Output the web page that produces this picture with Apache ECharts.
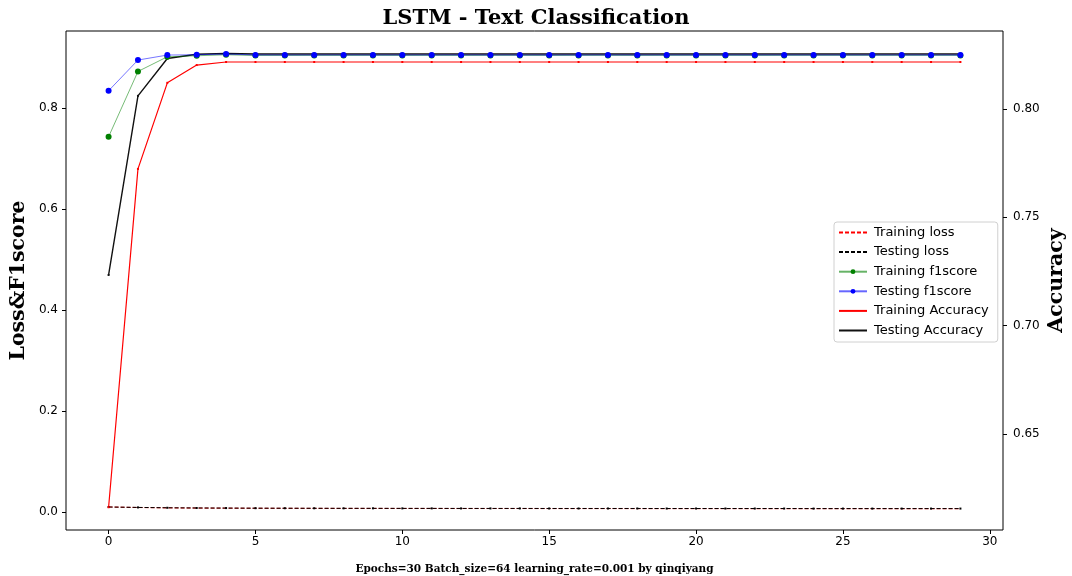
<!DOCTYPE html>
<html>
<head>
<meta charset="utf-8">
<script src="https://cdn.jsdelivr.net/npm/echarts@6/dist/echarts.min.js"></script>
<style>
  html, body { margin: 0; padding: 0; background: #fff; }
  #chart { width: 1072px; height: 576px; }
</style>
</head>
<body>
<div id="chart"></div>
<script>
// Epoch index for every recorded point
const epochs = [0, 1, 2, 3, 4, 5, 6, 7, 8, 9, 10, 11, 12, 13, 14, 15, 16, 17, 18, 19, 20, 21, 22, 23, 24, 25, 26, 27, 28, 29];

// Left axis: losses and F1 scores
const trainLoss = [0.0099, 0.0088, 0.0081, 0.0077, 0.0075, 0.0073, 0.0072, 0.0071, 0.0070, 0.0070, 0.0069, 0.0069, 0.0068, 0.0068, 0.0068, 0.0067, 0.0067, 0.0067, 0.0066, 0.0066, 0.0066, 0.0066, 0.0065, 0.0065, 0.0065, 0.0065, 0.0065, 0.0064, 0.0064, 0.0064];
const testLoss  = [0.0098, 0.0090, 0.0083, 0.0079, 0.0077, 0.0075, 0.0074, 0.0073, 0.0072, 0.0072, 0.0071, 0.0071, 0.0070, 0.0070, 0.0070, 0.0069, 0.0069, 0.0069, 0.0069, 0.0068, 0.0068, 0.0068, 0.0068, 0.0068, 0.0067, 0.0067, 0.0067, 0.0067, 0.0067, 0.0067];
const trainF1   = [0.7426, 0.8719, 0.9010, 0.9030, 0.9050, 0.9035, 0.9035, 0.9036, 0.9035, 0.9036, 0.9035, 0.9036, 0.9035, 0.9036, 0.9036, 0.9035, 0.9036, 0.9036, 0.9035, 0.9036, 0.9036, 0.9036, 0.9035, 0.9036, 0.9036, 0.9036, 0.9036, 0.9036, 0.9036, 0.9036];
const testF1    = [0.8337, 0.8945, 0.9044, 0.9050, 0.9065, 0.9046, 0.9045, 0.9045, 0.9046, 0.9045, 0.9045, 0.9045, 0.9046, 0.9045, 0.9045, 0.9045, 0.9045, 0.9046, 0.9045, 0.9045, 0.9045, 0.9045, 0.9045, 0.9045, 0.9045, 0.9045, 0.9045, 0.9045, 0.9045, 0.9045];

// Right axis: accuracies
const trainAcc  = [0.6163, 0.7723, 0.8120, 0.8202, 0.8216, 0.8216, 0.8216, 0.8216, 0.8216, 0.8216, 0.8216, 0.8216, 0.8216, 0.8216, 0.8216, 0.8216, 0.8216, 0.8216, 0.8216, 0.8216, 0.8216, 0.8216, 0.8216, 0.8216, 0.8216, 0.8216, 0.8216, 0.8216, 0.8216, 0.8216];
const testAcc   = [0.7234, 0.8060, 0.8232, 0.8252, 0.8255, 0.8253, 0.8253, 0.8253, 0.8253, 0.8253, 0.8253, 0.8253, 0.8253, 0.8253, 0.8253, 0.8253, 0.8253, 0.8253, 0.8253, 0.8253, 0.8253, 0.8253, 0.8253, 0.8253, 0.8253, 0.8253, 0.8253, 0.8253, 0.8253, 0.8253];

// Tick positions
const xTicks = [0, 5, 10, 15, 20, 25, 30];
const leftTicks = [0.0, 0.2, 0.4, 0.6, 0.8];
const rightTicks = [0.65, 0.70, 0.75, 0.80];

const pairs = (ys) => epochs.map((e, i) => [e, ys[i]]);

const tickFont = { fontFamily: 'DejaVu Sans', fontSize: 12, color: '#000' };
const nameFont = { fontFamily: 'DejaVu Serif', fontWeight: 'bold', fontSize: 20.5, color: '#000' };
const tickStyle = (values) => ({ show: true, inside: false, length: 4, customValues: values, lineStyle: { color: '#000' } });

const chart = echarts.init(document.getElementById('chart'), null, { renderer: 'canvas' });

chart.setOption({
  animation: false,
  backgroundColor: '#fff',
  title: {
    text: 'LSTM - Text Classification',
    left: 'center',
    top: 3,
    textStyle: { fontFamily: 'DejaVu Serif', fontWeight: 'bold', fontSize: 21, color: '#000' }
  },
  grid: {
    left: 66, right: 69, top: 31, bottom: 46,
    outerBoundsMode: 'none',
    containLabel: false,
    show: true, borderColor: '#000', borderWidth: 1, backgroundColor: 'transparent'
  },
  legend: {
    orient: 'vertical',
    left: 834, top: 222,
    padding: [4, 9, 5, 4],
    itemWidth: 28, itemHeight: 6, itemGap: 6.6,
    backgroundColor: 'rgba(255,255,255,0.85)',
    borderColor: '#d0d0d0', borderWidth: 1, borderRadius: 3,
    textStyle: { fontFamily: 'DejaVu Sans', fontSize: 13, color: '#000', padding: [0, 0, 0, 2] },
    data: [
      { name: 'Training loss', itemStyle: { opacity: 0 } },
      { name: 'Testing loss', itemStyle: { opacity: 0 } },
      { name: 'Training f1score' },
      { name: 'Testing f1score' },
      { name: 'Training Accuracy', itemStyle: { opacity: 0 } },
      { name: 'Testing Accuracy', itemStyle: { opacity: 0 } }
    ]
  },
  xAxis: {
    type: 'value',
    min: -1.45, max: 30.45,
    name: 'Epochs=30 Batch_size=64 learning_rate=0.001 by qinqiyang',
    nameLocation: 'middle',
    nameGap: 34,
    nameMoveOverlap: false,
    nameTextStyle: { fontFamily: 'DejaVu Serif', fontWeight: 'bold', fontSize: 10.5, color: '#000' },
    axisLine: { show: false, onZero: false },
    splitLine: { show: false },
    axisTick: tickStyle(xTicks),
    axisLabel: { ...tickFont, margin: 6, customValues: xTicks, formatter: (v) => String(v) }
  },
  yAxis: [
    {
      type: 'value',
      position: 'left',
      min: -0.0357, max: 0.952,
      name: 'Loss&F1score',
      nameLocation: 'middle',
      nameRotate: 90,
      nameGap: 37,
      nameMoveOverlap: false,
      nameTextStyle: nameFont,
      axisLine: { show: false, onZero: false },
      splitLine: { show: false },
      axisTick: tickStyle(leftTicks),
      axisLabel: { ...tickFont, margin: 8, customValues: leftTicks, formatter: (v) => v.toFixed(1) }
    },
    {
      type: 'value',
      position: 'right',
      min: 0.6058, max: 0.8359,
      name: 'Accuracy',
      nameLocation: 'middle',
      nameRotate: 90,
      nameGap: 43,
      nameMoveOverlap: false,
      nameTextStyle: nameFont,
      axisLine: { show: false, onZero: false },
      splitLine: { show: false },
      axisTick: tickStyle(rightTicks),
      axisLabel: { ...tickFont, margin: 10, customValues: rightTicks, formatter: (v) => v.toFixed(2) }
    }
  ],
  series: [
    {
      name: 'Training loss', type: 'line', yAxisIndex: 0, data: pairs(trainLoss),
      symbol: 'none', z: 3,
      lineStyle: { color: '#ff0000', width: 1, type: [4, 2] }, itemStyle: { color: '#ff0000' }
    },
    {
      name: 'Testing loss', type: 'line', yAxisIndex: 0, data: pairs(testLoss),
      symbol: 'rect', symbolSize: 2, z: 3,
      lineStyle: { color: '#000', width: 1, type: [4, 2] }, itemStyle: { color: '#000' }
    },
    {
      name: 'Training Accuracy', type: 'line', yAxisIndex: 1, data: pairs(trainAcc),
      symbol: 'rect', symbolSize: 2, z: 3,
      lineStyle: { color: '#ff0000', width: 1.2 }, itemStyle: { color: '#ff0000' }
    },
    {
      name: 'Testing Accuracy', type: 'line', yAxisIndex: 1, data: pairs(testAcc),
      symbol: 'rect', symbolSize: 2, z: 4,
      lineStyle: { color: '#111', width: 1.4 }, itemStyle: { color: '#111' }
    },
    {
      name: 'Training f1score', type: 'line', yAxisIndex: 0, data: pairs(trainF1),
      symbol: 'circle', symbolSize: 6, z: 5,
      lineStyle: { color: 'rgba(0,128,0,0.6)', width: 0.9 }, itemStyle: { color: '#008000' }
    },
    {
      name: 'Testing f1score', type: 'line', yAxisIndex: 0, data: pairs(testF1),
      symbol: 'circle', symbolSize: 6, z: 6,
      lineStyle: { color: 'rgba(0,0,255,0.6)', width: 0.9 }, itemStyle: { color: '#0000ff' }
    }
  ]
});
</script>
</body>
</html>
